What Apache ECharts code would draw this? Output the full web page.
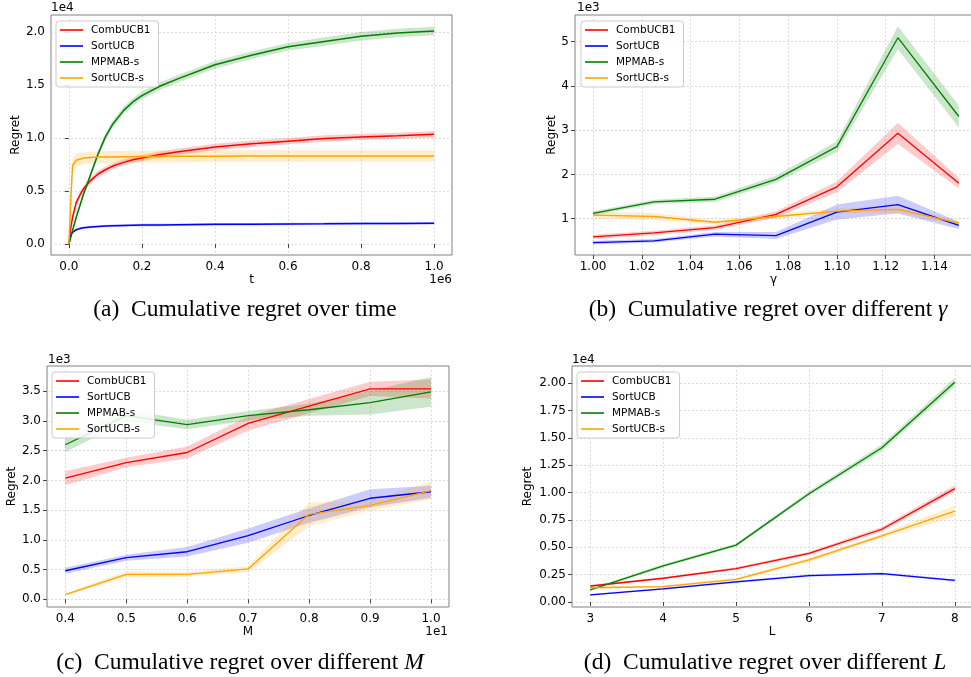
<!DOCTYPE html>
<html>
<head>
<meta charset="utf-8">
<script src="https://cdn.jsdelivr.net/npm/echarts@6/dist/echarts.min.js"></script>
<style>
  html, body { margin: 0; padding: 0; background: #fff; }
  #chart { width: 971px; height: 677px; }
</style>
</head>
<body>
<div id="chart"></div>
<script>
// ---- data (a): regret over time, t in 1e6, regret in 1e4
const tA      = [0, 0.005, 0.01, 0.02, 0.03, 0.04, 0.06, 0.08, 0.1, 0.12, 0.15, 0.175, 0.2, 0.25, 0.3, 0.4, 0.5, 0.6, 0.7, 0.8, 0.9, 1.0];
const combA   = [0, 0.15, 0.25, 0.39, 0.46, 0.52, 0.60, 0.66, 0.70, 0.735, 0.77, 0.795, 0.81, 0.845, 0.87, 0.915, 0.945, 0.97, 0.995, 1.01, 1.02, 1.035];
const sortA   = [0, 0.08, 0.11, 0.135, 0.145, 0.153, 0.16, 0.165, 0.17, 0.172, 0.175, 0.177, 0.178, 0.18, 0.182, 0.185, 0.187, 0.189, 0.19, 0.192, 0.193, 0.195];
const mpmabA  = [0, 0.06, 0.13, 0.25, 0.36, 0.47, 0.66, 0.85, 1.01, 1.13, 1.26, 1.34, 1.40, 1.49, 1.56, 1.69, 1.78, 1.86, 1.91, 1.96, 1.99, 2.01];
const sortsA  = [0, 0.40, 0.74, 0.79, 0.80, 0.81, 0.815, 0.82, 0.82, 0.821, 0.823, 0.824, 0.825, 0.826, 0.827, 0.828, 0.829, 0.829, 0.83, 0.83, 0.83, 0.83];
const combAsd  = [0, 0.01, 0.02, 0.03, 0.03, 0.03, 0.03, 0.03, 0.03, 0.03, 0.03, 0.03, 0.03, 0.03, 0.03, 0.03, 0.03, 0.03, 0.03, 0.03, 0.03, 0.03];
const sortAsd  = [0, 0.01, 0.012, 0.012, 0.012, 0.012, 0.012, 0.012, 0.012, 0.012, 0.012, 0.012, 0.012, 0.012, 0.012, 0.012, 0.012, 0.012, 0.012, 0.012, 0.012, 0.012];
const mpmabAsd = [0, 0.01, 0.02, 0.03, 0.03, 0.03, 0.03, 0.03, 0.035, 0.035, 0.035, 0.035, 0.035, 0.035, 0.035, 0.035, 0.035, 0.035, 0.04, 0.04, 0.04, 0.04];
const sortsAsd = [0, 0.05, 0.07, 0.06, 0.06, 0.055, 0.055, 0.055, 0.055, 0.055, 0.055, 0.055, 0.055, 0.055, 0.055, 0.055, 0.055, 0.055, 0.055, 0.055, 0.055, 0.055];

// ---- data (b): regret over gamma, regret in 1e3
const gB      = [1.00, 1.025, 1.05, 1.075, 1.10, 1.125, 1.15];
const combB   = [0.59, 0.68, 0.80, 1.10, 1.72, 2.93, 1.80];
const sortB   = [0.46, 0.50, 0.65, 0.62, 1.15, 1.32, 0.85];
const mpmabB  = [1.12, 1.38, 1.44, 1.89, 2.63, 5.09, 3.31];
const sortsB  = [1.08, 1.05, 0.92, 1.05, 1.17, 1.21, 0.90];
const combBsd  = [0.05, 0.05, 0.05, 0.07, 0.12, 0.24, 0.12];
const sortBsd  = [0.04, 0.04, 0.05, 0.08, 0.17, 0.20, 0.08];
const mpmabBsd = [0.05, 0.05, 0.06, 0.08, 0.12, 0.26, 0.25];
const sortsBsd = [0.08, 0.08, 0.05, 0.05, 0.06, 0.08, 0.05];

// ---- data (c): regret over M, M in 1e1, regret in 1e3
const mC      = [0.4, 0.5, 0.6, 0.7, 0.8, 0.9, 1.0];
const combC   = [2.04, 2.30, 2.47, 2.96, 3.25, 3.54, 3.54];
const sortC   = [0.48, 0.70, 0.80, 1.07, 1.41, 1.70, 1.81];
const mpmabC  = [2.60, 3.09, 2.94, 3.09, 3.19, 3.31, 3.49];
const sortsC  = [0.08, 0.42, 0.42, 0.51, 1.43, 1.58, 1.83];
const combCsd  = [0.12, 0.08, 0.10, 0.12, 0.12, 0.12, 0.16];
const sortCsd  = [0.05, 0.05, 0.08, 0.12, 0.12, 0.15, 0.10];
const mpmabCsd = [0.12, 0.10, 0.08, 0.08, 0.10, 0.20, 0.25];
const sortsCsd = [0.02, 0.05, 0.04, 0.05, 0.20, 0.08, 0.15];

// ---- data (d): regret over L, regret in 1e4
const lD      = [3, 4, 5, 6, 7, 8];
const combD   = [0.146, 0.217, 0.305, 0.445, 0.665, 1.037];
const sortD   = [0.064, 0.119, 0.183, 0.241, 0.259, 0.198];
const mpmabD  = [0.11, 0.33, 0.52, 0.99, 1.41, 2.01];
const sortsD  = [0.13, 0.14, 0.207, 0.384, 0.604, 0.83];
const combDsd  = [0.01, 0.01, 0.012, 0.015, 0.02, 0.03];
const sortDsd  = [0.008, 0.008, 0.01, 0.01, 0.01, 0.01];
const mpmabDsd = [0.01, 0.015, 0.015, 0.02, 0.03, 0.04];
const sortsDsd = [0.01, 0.01, 0.012, 0.02, 0.02, 0.05];

// tick labels
const xTicksA = [0, 0.2, 0.4, 0.6, 0.8, 1.0];
const yTicksA = [0, 0.5, 1.0, 1.5, 2.0];
const xTicksB = [1.00, 1.02, 1.04, 1.06, 1.08, 1.10, 1.12, 1.14];
const yTicksB = [1, 2, 3, 4, 5];
const xTicksC = [0.4, 0.5, 0.6, 0.7, 0.8, 0.9, 1.0];
const yTicksC = [0, 0.5, 1.0, 1.5, 2.0, 2.5, 3.0, 3.5];
const xTicksD = [3, 4, 5, 6, 7, 8];
const yTicksD = [0, 0.25, 0.5, 0.75, 1.0, 1.25, 1.5, 1.75, 2.0];

const names = ['CombUCB1', 'SortUCB', 'MPMAB-s', 'SortUCB-s'];
const colors = ['#ff0000', '#0000ff', '#008000', '#ffa500'];

var chart = echarts.init(document.getElementById('chart'), null, {renderer: 'canvas'});

function hexA(hex, a) {
  var r = parseInt(hex.slice(1, 3), 16), g = parseInt(hex.slice(3, 5), 16), b = parseInt(hex.slice(5, 7), 16);
  return 'rgba(' + r + ',' + g + ',' + b + ',' + a + ')';
}

function axis(gi, min, max, step, ticks, digits, name, gap) {
  return {
    type: 'value', gridIndex: gi, min: min, max: max,
    minInterval: step, maxInterval: step, splitNumber: 6,
    name: name, nameLocation: 'middle', nameGap: gap,
    nameTextStyle: {fontFamily: 'DejaVu Sans', fontSize: 12, color: '#000'},
    axisLine: {show: false},
    axisTick: {show: true, inside: false, length: 4, lineStyle: {color: '#444', width: 1}, customValues: ticks},
    axisLabel: {
      show: true, margin: 6, color: '#000',
      fontFamily: 'DejaVu Sans', fontSize: 12,
      customValues: ticks,
      formatter: function (v) { return Number(v).toFixed(digits); }
    },
    splitLine: {show: true, lineStyle: {color: '#d4d4d4', width: 0.8, type: [2, 2]}}
  };
}

function band(gi, xs, ys, sd, color) {
  return {
    type: 'custom', xAxisIndex: gi, yAxisIndex: gi, z: 1, silent: true,
    data: xs.map(function (x, i) { return [x, ys[i] - sd[i], ys[i] + sd[i]]; }),
    encode: {x: 0, y: [1, 2]},
    renderItem: function (params, api) {
      if (params.dataIndex !== 0) { return; }
      var pts = [];
      for (var i = 0; i < xs.length; i++) pts.push(api.coord([xs[i], ys[i] + sd[i]]));
      for (var j = xs.length - 1; j >= 0; j--) pts.push(api.coord([xs[j], ys[j] - sd[j]]));
      return {type: 'polygon', shape: {points: pts}, style: {fill: hexA(color, 0.2), stroke: null}};
    }
  };
}

function line(gi, name, xs, ys, color, w) {
  return {
    type: 'line', name: name, xAxisIndex: gi, yAxisIndex: gi, z: 3,
    data: xs.map(function (x, i) { return [x, ys[i]]; }),
    symbol: 'none', showSymbol: false, smooth: false,
    lineStyle: {color: color, width: w}, itemStyle: {color: color},
    emphasis: {disabled: true}, animation: false
  };
}

function panel(gi, xs, sets, w) {
  var out = [];
  sets.forEach(function (s, k) {
    out.push(band(gi, xs, s[0], s[1], colors[k]));
    out.push(line(gi, names[k], xs, s[0], colors[k], w));
  });
  return out;
}

function legend(left, top) {
  return {
    data: names, orient: 'vertical', left: left, top: top,
    icon: 'rect', itemWidth: 23, itemHeight: 1.6, itemGap: 0,
    padding: [1, 8, 1, 4],
    backgroundColor: 'rgba(255,255,255,0.85)', borderColor: '#cccccc', borderWidth: 1, borderRadius: 3,
    textStyle: {fontFamily: 'DejaVu Sans', fontSize: 10.5, color: '#000', lineHeight: 16, padding: [0, 0, 0, 3]},
    selectedMode: false
  };
}

function txt(x, y, s, align) {
  return {type: 'text', x: x, y: y, silent: true,
    style: {text: s, fontFamily: 'DejaVu Sans', fontSize: 12, fill: '#000', align: align || 'left', verticalAlign: 'middle'}};
}

function caption(cx, y, label, body, math) {
  return {type: 'text', x: cx, y: y, silent: true,
    style: {
      text: '{n|' + label + '\u2002' + body + '}' + (math ? '{m|' + math + '}' : ''),
      align: 'center', verticalAlign: 'middle',
      fontFamily: 'Liberation Serif', fontSize: 23.5, fill: '#000',
      rich: {
        n: {fontFamily: 'Liberation Serif', fontSize: 23.5, color: '#000'},
        m: {fontFamily: 'Liberation Serif', fontSize: 23.5, fontStyle: 'italic', color: '#000'}
      }
    }};
}

var gridStyle = {show: true, borderColor: '#808080', borderWidth: 1, backgroundColor: '#fff', containLabel: false, outerBoundsMode: 'none'};

var option = {
  animation: false,
  backgroundColor: '#fff',
  grid: [
    Object.assign({left: 51, top: 15, width: 401, height: 240}, gridStyle),
    Object.assign({left: 575, top: 15, width: 397, height: 240}, gridStyle),
    Object.assign({left: 47, top: 366, width: 402, height: 241}, gridStyle),
    Object.assign({left: 572, top: 366, width: 400, height: 241}, gridStyle)
  ],
  xAxis: [
    axis(0, -0.049, 1.049, 0.2, xTicksA, 1, 't', 19),
    axis(1, 0.9926, 1.1554, 0.02, xTicksB, 2, '\u03b3', 19),
    axis(2, 0.370, 1.0295, 0.1, xTicksC, 1, 'M', 19),
    axis(3, 2.75, 8.236, 1, xTicksD, 0, 'L', 19)
  ],
  yAxis: [
    axis(0, -0.104, 2.16, 0.5, yTicksA, 1, 'Regret', 29),
    axis(1, 0.18, 5.603, 1, yTicksB, 0, 'Regret', 17),
    axis(2, -0.13, 3.926, 0.5, yTicksC, 1, 'Regret', 29),
    axis(3, -0.046, 2.158, 0.25, yTicksD, 2, 'Regret', 38)
  ],
  legend: [legend(56, 21), legend(581, 21), legend(52, 372), legend(577, 372)],
  series: [].concat(
    panel(0, tA, [[combA, combAsd], [sortA, sortAsd], [mpmabA, mpmabAsd], [sortsA, sortsAsd]], 1.5),
    panel(1, gB, [[combB, combBsd], [sortB, sortBsd], [mpmabB, mpmabBsd], [sortsB, sortsBsd]], 1.3),
    panel(2, mC, [[combC, combCsd], [sortC, sortCsd], [mpmabC, mpmabCsd], [sortsC, sortsCsd]], 1.3),
    panel(3, lD, [[combD, combDsd], [sortD, sortDsd], [mpmabD, mpmabDsd], [sortsD, sortsDsd]], 1.3)
  ),
  graphic: [
    txt(51, 8, '1e4'),
    txt(452, 280, '1e6', 'right'),
    txt(577, 8, '1e3'),
    txt(48, 360, '1e3'),
    txt(448, 632, '1e1', 'right'),
    txt(572, 360, '1e4'),
    caption(245, 310, '(a)', 'Cumulative regret over time', null),
    caption(768, 310, '(b)', 'Cumulative regret over different ', '\u03b3'),
    caption(240, 663, '(c)', 'Cumulative regret over different ', 'M'),
    caption(765, 663, '(d)', 'Cumulative regret over different ', 'L')
  ]
};

chart.setOption(option);
</script>
</body>
</html>
